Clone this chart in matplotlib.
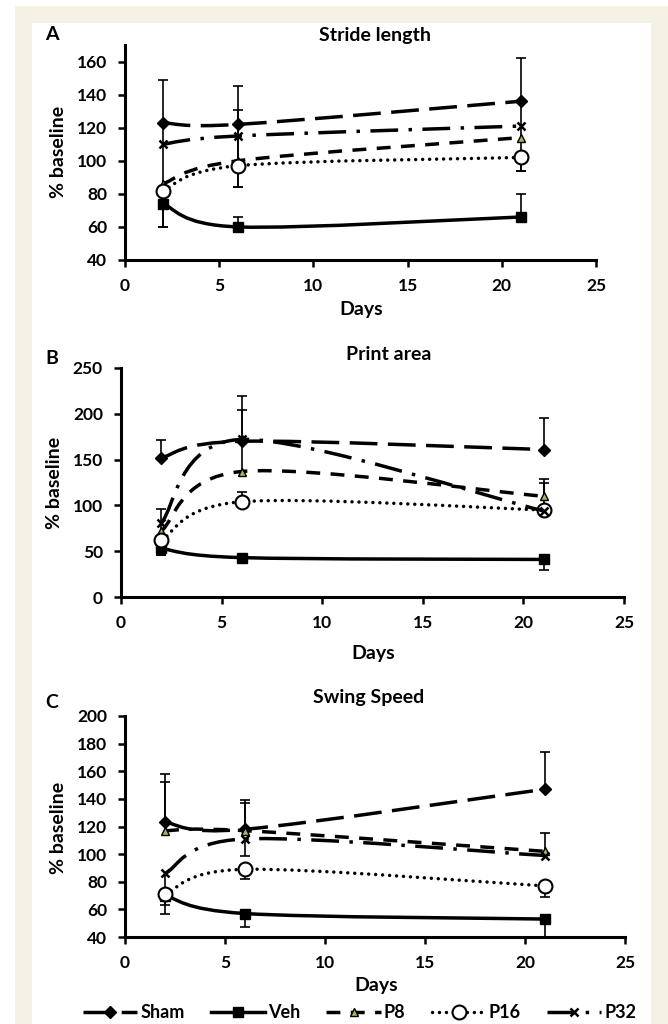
import matplotlib
matplotlib.use("Agg")
import matplotlib.pyplot as plt
from matplotlib.path import Path
from matplotlib.patches import PathPatch, Rectangle
from matplotlib.lines import Line2D
import numpy as np

# ---------------- data ----------------
days = [2, 6, 21]
series_names = ["Sham", "Veh", "P8", "P16", "P32"]

stride_mean = {"Sham": [123, 122, 136], "Veh": [74, 60, 66], "P8": [86, 100, 114],
               "P16": [82, 97, 102], "P32": [110, 115, 121]}
stride_err_up = {"Sham": [26, 23, 26], "Veh": [0, 6, 14], "P8": [0, 31, 0],
                 "P16": [0, 0, 0], "P32": [0, 0, 0]}
stride_err_down = {"Sham": [63, 38, 42], "Veh": [14, 0, 0], "P8": [0, 0, 0],
                   "P16": [0, 13, 8], "P32": [0, 0, 0]}

print_mean = {"Sham": [152, 170, 161], "Veh": [53, 43, 41], "P8": [72, 137, 110],
              "P16": [62, 104, 95], "P32": [81, 172, 94]}
print_err_up = {"Sham": [19, 49, 34], "Veh": [0, 0, 0], "P8": [0, 35, 19],
                "P16": [0, 11, 0], "P32": [15, 32, 30]}
print_err_down = {"Sham": [0, 0, 0], "Veh": [7, 0, 11], "P8": [0, 0, 0],
                  "P16": [0, 0, 0], "P32": [35, 0, 0]}

swing_mean = {"Sham": [123, 118, 147], "Veh": [70, 57, 53], "P8": [117, 117, 102],
              "P16": [71, 89, 77], "P32": [86, 111, 99]}
swing_err_up = {"Sham": [35, 21, 27], "Veh": [0, 0, 0], "P8": [35, 20, 0],
                "P16": [0, 0, 0], "P32": [0, 0, 16]}
swing_err_down = {"Sham": [0, 0, 0], "Veh": [0, 10, 13], "P8": [0, 0, 0],
                  "P16": [14, 7, 8], "P32": [23, 12, 0]}

panel_titles = ["Stride length", "Print area", "Swing Speed"]
panel_letters = ["A", "B", "C"]
x_ticks = [0, 5, 10, 15, 20, 25]
stride_yticks = [40, 60, 80, 100, 120, 140, 160]
print_yticks = [0, 50, 100, 150, 200, 250]
swing_yticks = [40, 60, 80, 100, 120, 140, 160, 180, 200]

# ---------------- style ----------------
FONT = "Lato"
plt.rcParams["font.family"] = [FONT, "DejaVu Sans"]
plt.rcParams["font.weight"] = "bold"

LW = 2.5
styles = {
    "Sham": dict(ls=(0, (8, 3)), marker="D", ms=6.5, mfc="black", mew=1.0, cap="butt"),
    "Veh": dict(ls="-", marker="s", ms=7, mfc="black", mew=1.0, cap="butt"),
    "P8": dict(ls=(0, (4, 3)), marker="^", ms=6, mfc="#9BBB59", mew=1.0, cap="butt"),
    "P16": dict(ls=(0, (0.01, 2)), marker="o", ms=10, mfc="white", mew=1.5, cap="round"),
    "P32": dict(ls=(0, (8, 3, 1, 3)), marker="x", ms=5.5, mfc="black", mew=1.8, cap="butt"),
}

W, H = 668, 1024
fig = plt.figure(figsize=(W / 100, H / 100), dpi=100)
fig.patch.set_facecolor("white")

# beige frame
fig.patches.append(Rectangle((15 / W, 0), (W - 15) / W, (H - 6) / H,
                             transform=fig.transFigure, facecolor="#F5F1E4",
                             edgecolor="none", zorder=-10))
fig.patches.append(Rectangle((32 / W, 0), (651 - 32) / W, (H - 23) / H,
                             transform=fig.transFigure, facecolor="white",
                             edgecolor="none", zorder=-9))


def smooth_path(x, y):
    pts = [np.array([a, b], dtype=float) for a, b in zip(x, y)]
    n = len(pts)
    verts = [pts[0]]
    codes = [Path.MOVETO]
    for i in range(n - 1):
        p0 = pts[i - 1] if i > 0 else pts[i]
        p1 = pts[i]
        p2 = pts[i + 1]
        p3 = pts[i + 2] if i + 2 < n else pts[i + 1]
        c1 = p1 + (p2 - p0) / 6.0
        c2 = p2 - (p3 - p1) / 6.0
        verts += [c1, c2, p2]
        codes += [Path.CURVE4] * 3
    return Path(verts, codes)


def px_axes(l, r, t, b):
    return fig.add_axes([l / W, 1 - b / H, (r - l) / W, (b - t) / H])


def draw_panel(ax, mean, up, down, ylim, yticks):
    ax.set_xlim(0, 25)
    ax.set_ylim(*ylim)
    ax.set_xticks(x_ticks)
    ax.set_yticks(yticks)
    ax.patch.set_alpha(0)
    for s in ["top", "right"]:
        ax.spines[s].set_visible(False)
    for s in ["left", "bottom"]:
        ax.spines[s].set_linewidth(2.2)
        ax.spines[s].set_color("black")
    ax.tick_params(direction="out", length=5, width=1.8, labelsize=12.5, pad=8,
                   colors="black")
    for lab in ax.get_xticklabels() + ax.get_yticklabels():
        lab.set_fontweight("bold")
        lab.set_family([FONT, "DejaVu Sans"])

    for k, name in enumerate(series_names):
        st = styles[name]
        m = mean[name]
        # error bars
        for xi, yi, u, d in zip(days, m, up[name], down[name]):
            if u > 0:
                ax.vlines(xi, yi, yi + u, color="black", lw=1.2, zorder=2 + k * 0.01)
                ax.plot([xi], [yi + u], marker="_", ms=7.5, mew=1.2, color="black",
                        zorder=2 + k * 0.01)
            if d > 0:
                ax.vlines(xi, yi - d, yi, color="black", lw=1.2, zorder=2 + k * 0.01)
                ax.plot([xi], [yi - d], marker="_", ms=7.5, mew=1.2, color="black",
                        zorder=2 + k * 0.01)
        # smoothed line
        patch = PathPatch(smooth_path(days, m), facecolor="none", edgecolor="black",
                          lw=LW, linestyle=st["ls"], capstyle=st["cap"],
                          zorder=3 + k * 0.1)
        ax.add_patch(patch)
        # markers
        ax.plot(days, m, linestyle="none", marker=st["marker"], ms=st["ms"],
                mfc=st["mfc"], mec="black", mew=st["mew"], zorder=3.05 + k * 0.1)


panels = [
    (px_axes(125, 596, 45, 260), stride_mean, stride_err_up, stride_err_down, (40, 170), stride_yticks),
    (px_axes(121, 624, 368, 597), print_mean, print_err_up, print_err_down, (0, 250), print_yticks),
    (px_axes(125, 625, 716, 937), swing_mean, swing_err_up, swing_err_down, (40, 200), swing_yticks),
]
for ax, mean, up, down, ylim, yt in panels:
    draw_panel(ax, mean, up, down, ylim, yt)


def ftext(x, y, s, size, **kw):
    fig.text(x / W, 1 - y / H, s, fontsize=size, fontweight="bold",
             ha=kw.pop("ha", "center"), va=kw.pop("va", "center"),
             family=[FONT, "DejaVu Sans"], **kw)


# titles / letters / axis labels
title_pos = [(375, 35), (389, 355), (369, 698)]
letter_pos = [(52, 34), (52, 359), (52, 703)]
days_pos = [(361, 310), (373, 653), (376, 985)]
ylab_pos = [(58, 152), (55, 483), (58, 828)]
for i in range(3):
    ftext(*title_pos[i], panel_titles[i], 14)
    ftext(*letter_pos[i], panel_letters[i], 14)
    ftext(*days_pos[i], "Days", 14)
    ftext(*ylab_pos[i], "% baseline", 14, rotation=90)

# legend
handles = []
for name in series_names:
    st = styles[name]
    handles.append(Line2D([], [], color="black", lw=LW, linestyle=st["ls"],
                          dash_capstyle=st["cap"], marker=st["marker"], ms=st["ms"],
                          mfc=st["mfc"], mec="black", mew=st["mew"]))
fig.legend(handles, series_names, loc="center left",
           bbox_to_anchor=(83 / W, 1 - 1013 / H), ncol=5, frameon=False,
           borderpad=0, borderaxespad=0, handlelength=3.0, handletextpad=0.17,
           columnspacing=1.45, numpoints=1,
           prop=dict(family=[FONT, "DejaVu Sans"], weight="bold", size=13))

fig.savefig("out.png", dpi=100)
